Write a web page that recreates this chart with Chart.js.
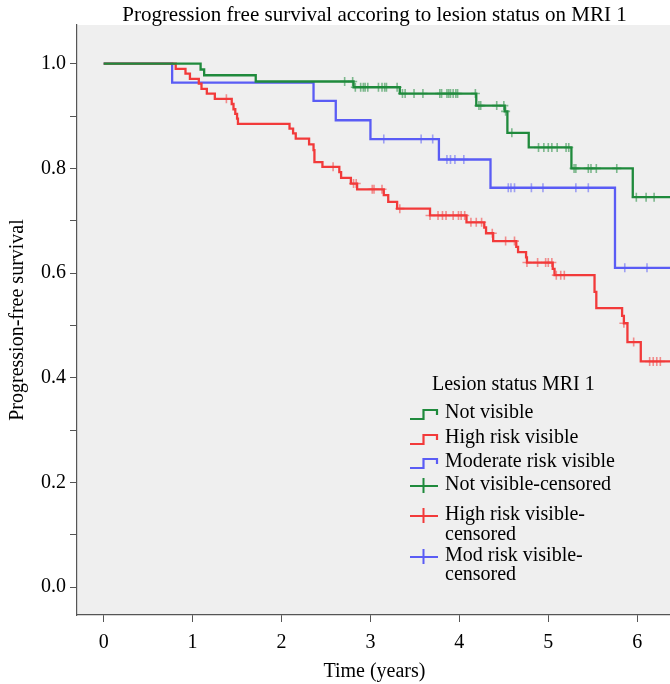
<!DOCTYPE html>
<html><head><meta charset="utf-8">
<script src="https://cdn.jsdelivr.net/npm/chart.js@4.4.1/dist/chart.umd.min.js"></script>
<style>
html,body{margin:0;padding:0;background:#fff;overflow:hidden;width:670px;height:684px}
#wrap{position:relative;width:678px;height:684px}
</style>
</head><body>
<div id="wrap"><canvas id="c" width="678" height="684"></canvas></div>
<script>
// ---- data ----
const chartTitle = 'Progression free survival accoring to lesion status on MRI 1';
const xTitle = 'Time (years)';
const yTitle = 'Progression-free survival';
const legendTitle = 'Lesion status MRI 1';
const seriesNames = ['Not visible','High risk visible','Moderate risk visible'];
const censorNames = [['Not visible-censored'],['High risk visible-','censored'],['Mod risk visible-','censored']];
const xTickValues = [0,1,2,3,4,5,6];
const yTickValues = [0,0.1,0.2,0.3,0.4,0.5,0.6,0.7,0.8,0.9,1.0];
const yTickLabels = ['0.0','','0.2','','0.4','','0.6','','0.8','','1.0'];
const followUpEnd = 6.39;

// Not visible (green)
const notVisibleTimes = [1.09,1.13,1.71,2.81,3.33,4.19,4.51,4.54,4.78,5.26,5.95];
const notVisibleSurv  = [0.989,0.978,0.966,0.955,0.943,0.920,0.909,0.868,0.840,0.800,0.745];
const notVisibleCensored = [2.71,2.80,2.83,2.89,2.92,2.94,2.97,3.09,3.13,3.16,3.18,3.30,3.36,3.39,3.49,3.59,3.78,3.80,3.86,3.88,3.90,3.93,3.96,3.98,4.18,4.22,4.24,4.42,4.50,4.52,4.59,4.89,4.95,5.00,5.04,5.10,5.20,5.23,5.29,5.31,5.45,5.48,5.54,5.77,5.99,6.10,6.19];

// High risk visible (red)
const highRiskTimes = [0.81,0.92,0.97,1.07,1.10,1.16,1.25,1.44,1.46,1.48,1.50,1.51,2.09,2.13,2.16,2.31,2.36,2.37,2.46,2.65,2.67,2.78,2.85,3.15,3.20,3.30,3.67,4.08,4.28,4.30,4.38,4.64,4.66,4.75,4.76,5.05,5.07,5.52,5.54,5.83,5.85,5.89,6.04];
const highRiskSurv  = [0.990,0.981,0.971,0.962,0.952,0.943,0.933,0.923,0.913,0.904,0.895,0.885,0.876,0.867,0.857,0.846,0.835,0.812,0.803,0.793,0.782,0.771,0.760,0.749,0.736,0.723,0.710,0.697,0.687,0.676,0.661,0.650,0.640,0.630,0.620,0.608,0.596,0.564,0.533,0.518,0.504,0.468,0.431];
const highRiskCensored = [1.38,2.58,2.81,2.84,3.02,3.04,3.13,3.33,3.67,3.76,3.81,3.85,3.93,3.99,4.02,4.06,4.13,4.19,4.25,4.37,4.52,4.62,4.76,4.88,4.97,5.00,5.04,5.09,5.14,5.18,5.85,5.96,6.14,6.18,6.22,6.26];

// Moderate risk visible (blue)
const modRiskTimes = [0.77,2.36,2.61,3.00,3.77,4.35,5.75];
const modRiskSurv  = [0.964,0.929,0.892,0.856,0.817,0.763,0.610];
const modRiskCensored = [3.15,3.57,3.70,3.86,3.90,3.95,4.05,4.55,4.58,4.62,4.81,4.94,5.31,5.45,5.86,6.11];

const colors = ['#1f8a3c','#f23a3a','#5a5cf5'];
const censorColors = ['rgba(31,138,60,0.55)','rgba(242,58,58,0.55)','rgba(90,92,245,0.55)'];

// ---- helpers ----
function stepPoints(times, surv, end){
  const pts=[{x:0,y:1}];
  times.forEach((t,i)=>pts.push({x:t,y:surv[i]}));
  pts.push({x:end,y:surv[surv.length-1]});
  return pts;
}
function survAt(times, surv, t){
  let s=1;
  for(let i=0;i<times.length;i++){ if(times[i]<=t) s=surv[i]; }
  return s;
}
function censorPoints(times, surv, cens){
  return cens.map(t=>({x:t,y:survAt(times,surv,t)}));
}

const groups = [
  [notVisibleTimes,notVisibleSurv,notVisibleCensored],
  [highRiskTimes,highRiskSurv,highRiskCensored],
  [modRiskTimes,modRiskSurv,modRiskCensored]
];

const datasets = [];
groups.forEach((g,i)=>{
  datasets.push({
    type:'line', label:seriesNames[i], data:stepPoints(g[0],g[1],followUpEnd),
    stepped:true, borderColor:colors[i], borderWidth:2.3, pointRadius:0, fill:false, order:2
  });
});
groups.forEach((g,i)=>{
  datasets.push({
    type:'scatter', label:censorNames[i].join(''), data:censorPoints(g[0],g[1],g[2]),
    showLine:false, pointStyle:'cross', pointRadius:4.5, borderColor:censorColors[i],
    backgroundColor:censorColors[i], borderWidth:1.6, order:1
  });
});

const FONT = 'Liberation Serif';

const decor = {
  id:'decor',
  beforeDraw(chart){
    const {ctx, chartArea:a} = chart;
    ctx.save();
    ctx.fillStyle='#ffffff';
    ctx.fillRect(0,0,chart.width,chart.height);
    ctx.fillStyle='#efefef';
    ctx.fillRect(a.left,a.top,a.right-a.left,a.bottom-a.top);
    ctx.restore();
  },
  afterDraw(chart){
    const {ctx, chartArea:a} = chart;
    ctx.save();
    ctx.fillStyle='#000';
    ctx.font = '21px "'+FONT+'"';
    ctx.textAlign='center'; ctx.textBaseline='middle';
    ctx.fillText(chartTitle,(a.left+a.right)/2,15);

    // legend
    ctx.font = '20px "'+FONT+'"';
    ctx.textAlign='left';
    ctx.fillText(legendTitle,432,385);
    const lineRows=[413,438,462];
    lineRows.forEach((y,i)=>{
      ctx.strokeStyle=colors[i]; ctx.lineWidth=2.2;
      ctx.beginPath();
      ctx.moveTo(410,y+6); ctx.lineTo(423.5,y+6); ctx.lineTo(423.5,y-3);
      ctx.lineTo(437,y-3); ctx.lineTo(437,y+2);
      ctx.stroke();
      ctx.fillStyle='#000';
      ctx.fillText(seriesNames[i],445,y);
    });
    const censRows=[[485],[515,535],[556,575]];
    censRows.forEach((rows,i)=>{
      const y=rows[0];
      ctx.strokeStyle=colors[i]; ctx.lineWidth=2;
      ctx.beginPath();
      ctx.moveTo(410,y+1); ctx.lineTo(438,y+1);
      ctx.moveTo(423.5,y-7); ctx.lineTo(423.5,y+8);
      ctx.stroke();
      ctx.fillStyle='#000';
      censorNames[i].forEach((txt,k)=>ctx.fillText(txt,445,rows[k]));
    });
    ctx.restore();
  }
};

new Chart(document.getElementById('c'),{
  type:'line',
  data:{datasets},
  plugins:[decor],
  options:{
    responsive:false, animation:false, devicePixelRatio:1,
    layout:{padding:{top:25,left:0,right:0,bottom:0}},
    plugins:{legend:{display:false},title:{display:false},tooltip:{enabled:false}},
    scales:{
      x:{
        type:'linear', min:-0.3, max:followUpEnd,
        afterBuildTicks:s=>{s.ticks=xTickValues.map(v=>({value:v}));},
        afterFit:s=>{s.height=69;},
        ticks:{color:'#000',font:{family:FONT,size:20},padding:9,maxRotation:0,
               callback:v=>String(v)},
        grid:{display:true,drawOnChartArea:false,drawTicks:true,tickLength:7,color:'#555',lineWidth:1},
        border:{display:true,color:'#555',width:1.2},
        title:{display:true,text:xTitle,color:'#000',font:{family:FONT,size:20},padding:{top:0,bottom:0}}
      },
      y:{
        type:'linear', min:-0.0535, max:1.074,
        afterBuildTicks:s=>{s.ticks=yTickValues.map(v=>({value:v}));},
        afterFit:s=>{s.width=77;},
        ticks:{color:'#000',font:{family:FONT,size:20},padding:4,
               callback:(v,i)=>yTickLabels[i]},
        grid:{display:true,drawOnChartArea:false,drawTicks:true,tickLength:7,color:'#555',lineWidth:1},
        border:{display:true,color:'#555',width:1.2},
        title:{display:true,text:yTitle,color:'#000',font:{family:FONT,size:20},padding:{top:6,bottom:0}}
      }
    }
  }
});
</script>
</body></html>
